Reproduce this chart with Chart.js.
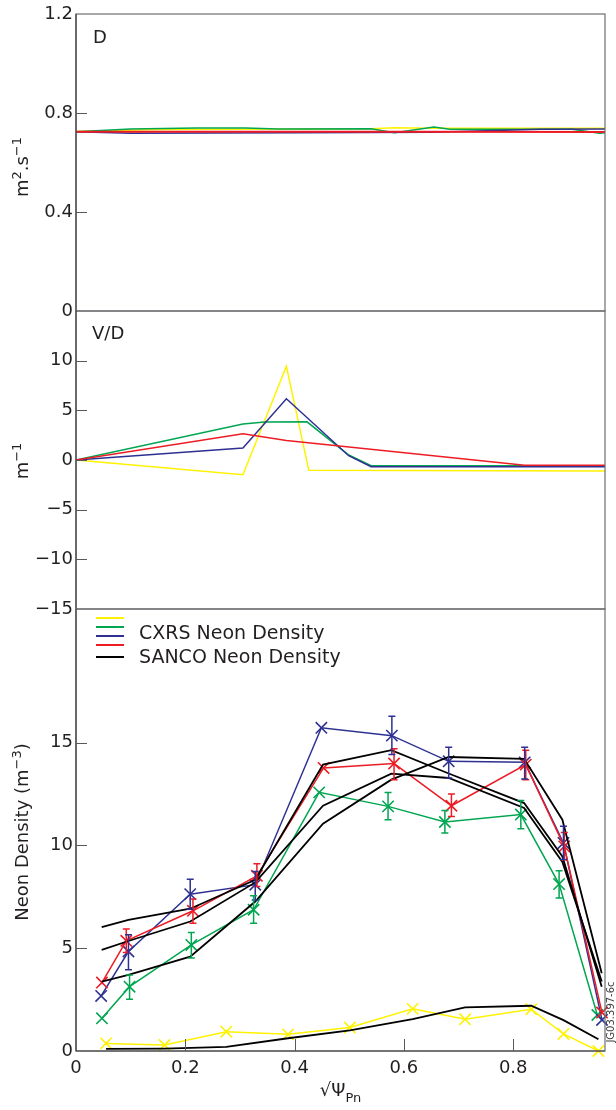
<!DOCTYPE html>
<html>
<head>
<meta charset="utf-8">
<script src="https://cdn.jsdelivr.net/npm/chart.js@4.4.1/dist/chart.umd.min.js"></script>
<style>
  html, body { margin: 0; padding: 0; background: #fff; }
  #wrap { position: relative; width: 616px; height: 1110px; }
  #wrap canvas { position: absolute; left: 0; top: 0; }
</style>
</head>
<body>
<div id="wrap">
  <canvas id="cD" width="616" height="1110"></canvas>
  <canvas id="cVD" width="616" height="1110"></canvas>
  <canvas id="cNe" width="616" height="1110"></canvas>
</div>
<script>
// ---- data ----
const XMAX = 0.968;
const xTicks = [0, 0.2, 0.4, 0.6, 0.8];

// D panel (m^2/s)
const dTicks = [0, 0.4, 0.8, 1.2];
const dYellowX = [0, 0.15, 0.54, 0.583, 0.655, 0.968];
const dYellow  = [0.725, 0.733, 0.736, 0.740, 0.738, 0.738];
const dGreenX  = [0, 0.1, 0.22, 0.31, 0.37, 0.54, 0.583, 0.655, 0.684, 0.908, 0.958, 0.968];
const dGreen   = [0.724, 0.735, 0.739, 0.739, 0.735, 0.736, 0.720, 0.743, 0.734, 0.734, 0.718, 0.720];
const dBlueX   = [0, 0.1, 0.4, 0.65, 0.85, 0.968];
const dBlue    = [0.724, 0.718, 0.720, 0.722, 0.734, 0.735];
const dRedX    = [0, 0.3, 0.6, 0.968];
const dRed     = [0.724, 0.724, 0.724, 0.723];

// V/D panel (1/m)
const vdTicks = [-15, -10, -5, 0, 5, 10];
const vdYellowX = [0, 0.3055, 0.385, 0.426, 0.968];
const vdYellow  = [0, -1.48, 9.43, -1.04, -1.1];
const vdGreenX  = [0, 0.3055, 0.345, 0.4227, 0.499, 0.54, 0.968];
const vdGreen   = [0, 3.62, 3.82, 3.84, 0.5, -0.58, -0.58];
const vdBlueX   = [0, 0.3055, 0.385, 0.499, 0.54, 0.968];
const vdBlue    = [0, 1.21, 6.17, 0.43, -0.68, -0.68];
const vdRedX    = [0, 0.3055, 0.385, 0.821, 0.968];
const vdRed     = [0, 2.65, 1.97, -0.53, -0.53];

// Neon density panel
const neTicks = [0, 5, 10, 15];
const neYellowX = [0.055, 0.162, 0.275, 0.388, 0.501, 0.616, 0.712, 0.833, 0.892, 0.956];
const neYellow  = [0.37, 0.29, 0.94, 0.81, 1.14, 2.05, 1.54, 2.03, 0.83, 0.0];
const neGreenX  = [0.0475, 0.098, 0.211, 0.325, 0.445, 0.571, 0.675, 0.814, 0.884, 0.954];
const neGreen   = [1.59, 3.13, 5.16, 6.87, 12.58, 11.9, 11.14, 11.5, 8.12, 1.75];
const neGreenLo = [null, 2.52, 4.52, 6.22, null, 11.25, 10.6, 10.81, 7.44, null];
const neGreenHi = [null, 3.7, 5.76, 7.55, null, 12.58, 11.7, 12.18, 8.77, null];
const neBlueX   = [0.046, 0.096, 0.209, 0.328, 0.449, 0.578, 0.682, 0.821, 0.892, 0.9625];
const neBlue    = [2.68, 4.84, 7.63, 8.09, 15.72, 15.34, 14.09, 14.04, 10.12, 1.51];
const neBlueLo  = [null, 3.95, 6.9, 7.35, null, 14.42, 13.28, 13.23, 9.32, null];
const neBlueHi  = [null, 5.65, 8.36, 8.73, null, 16.28, 14.77, 14.77, 10.93, null];
const neRedX    = [0.0475, 0.092, 0.214, 0.331, 0.453, 0.582, 0.687, 0.823, 0.8935, 0.9625];
const neRed     = [3.33, 5.36, 6.82, 8.52, 13.77, 13.98, 11.93, 13.93, 9.95, 1.87];
const neRedLo   = [null, 4.79, 6.22, 8.0, null, 13.2, 11.41, 13.2, 9.3, null];
const neRedHi   = [null, 5.93, 7.39, 9.11, null, 14.7, 12.5, 14.63, 10.63, null];
// SANCO simulated profiles
const sancoX  = [0.047, 0.096, 0.209, 0.328, 0.452, 0.577, 0.682, 0.82, 0.89, 0.962];
const sancoA  = [6.02, 6.38, 6.92, 8.33, 13.93, 14.63, 13.5, 12.06, 9.46, 3.13];
const sancoB  = [4.92, 5.35, 6.3, 8.2, 11.93, 13.49, 13.28, 11.82, 9.2, 3.38];
const sancoC  = [3.38, 3.7, 4.59, 7.27, 11.06, 13.2, 14.3, 14.21, 11.25, 3.78];
const sancoLowX = [0.055, 0.162, 0.275, 0.388, 0.501, 0.616, 0.712, 0.833, 0.892, 0.956];
const sancoLow  = [0.1, 0.12, 0.2, 0.62, 1.0, 1.55, 2.12, 2.2, 1.5, 0.57];

// ---- style ----
const W = 616, H = 1110, LEFT = 76, RIGHT = 605;
const TEXT = '#231f20';
const YELLOW = '#fff200', GREEN = '#00a651', BLUE = '#2e3192', RED = '#ed1c24', BLACK = '#000000';
Chart.defaults.font.family = 'DejaVu Sans';
Chart.defaults.color = TEXT;

const pts = (xs, ys) => xs.map((x, i) => ({ x, y: ys[i] }));
const fmt = v => (v === 0 ? '0' : (Number.isInteger(v) ? String(v) : v.toFixed(1))).replace('-', '\u2212');

function drawRich(ctx, pieces, size) {
    // pieces drawn centred on the current origin
    const sub = Math.round(size * 0.72);
    let total = 0;
    pieces.forEach(p => { ctx.font = `${p.sup || p.sub ? sub : size}px "DejaVu Sans"`; p.w = ctx.measureText(p.t).width; total += p.w; });
    let x = -total / 2;
    ctx.textBaseline = 'alphabetic';
    ctx.textAlign = 'left';
    pieces.forEach(p => {
        ctx.font = `${p.sup || p.sub ? sub : size}px "DejaVu Sans"`;
        const dy = p.sup ? -size * 0.42 : p.sub ? size * 0.3 : 0;
        ctx.fillText(p.t, x, size * 0.36 + dy);
        x += p.w;
    });
}

const decor = {
    id: 'decor',
    afterDatasetsDraw(chart, args, o) {
        const { ctx, chartArea: a, scales: { x, y } } = chart;
        ctx.save();
        // error bars
        chart.data.datasets.forEach(ds => {
            if (!ds.errLow) return;
            ctx.strokeStyle = ds.borderColor;
            ctx.lineWidth = 1.5;
            ds.data.forEach((p, i) => {
                if (ds.errLow[i] == null) return;
                const px = x.getPixelForValue(p.x);
                const y1 = y.getPixelForValue(ds.errLow[i]);
                const y2 = y.getPixelForValue(ds.errHigh[i]);
                ctx.beginPath();
                ctx.moveTo(px, y1); ctx.lineTo(px, y2);
                ctx.moveTo(px - 3.5, y1); ctx.lineTo(px + 3.5, y1);
                ctx.moveTo(px - 3.5, y2); ctx.lineTo(px + 3.5, y2);
                ctx.stroke();
            });
        });

        // frame
        ctx.strokeStyle = '#6d6e71';
        ctx.lineWidth = 1.2;
        ctx.strokeRect(a.left, a.top, a.right - a.left, a.bottom - a.top);
        ctx.strokeStyle = '#414042';
        ctx.beginPath();
        ctx.moveTo(a.left, a.top); ctx.lineTo(a.left, a.bottom);
        if (o.xTicks) { ctx.moveTo(a.left, a.bottom); ctx.lineTo(a.right, a.bottom); }
        ctx.stroke();

        // inner ticks
        ctx.strokeStyle = '#58595b';
        ctx.lineWidth = 1;
        ctx.beginPath();
        (o.yTicks || []).forEach(v => {
            const py = Math.round(y.getPixelForValue(v)) + 0.5;
            if (py < a.top + 2 || py > a.bottom - 2) return;
            ctx.moveTo(a.left, py); ctx.lineTo(a.left + 11, py);
        });
        (o.xTicks || []).forEach(v => {
            const px = Math.round(x.getPixelForValue(v)) + 0.5;
            if (px < a.left + 2) return;
            ctx.moveTo(px, a.bottom); ctx.lineTo(px, a.bottom - 12);
        });
        ctx.stroke();

        // panel label
        ctx.fillStyle = TEXT;
        if (o.label) {
            ctx.font = '18px "DejaVu Sans"';
            ctx.textAlign = 'left';
            ctx.textBaseline = 'middle';
            ctx.fillText(o.label, o.labelX, o.labelY);
        }
        // y title
        if (o.yTitle) {
            ctx.save();
            ctx.translate(22, o.yTitleY);
            ctx.rotate(-Math.PI / 2);
            drawRich(ctx, o.yTitle, 18);
            ctx.restore();
        }
        // x title
        if (o.xTitle) {
            ctx.save();
            ctx.translate((a.left + a.right) / 2, 1090);
            drawRich(ctx, o.xTitle, 18);
            ctx.restore();
        }
        // legend
        if (o.legend) {
            ctx.lineWidth = 2;
            o.legend.forEach(l => {
                ctx.strokeStyle = l.color;
                ctx.beginPath();
                ctx.moveTo(96, l.y); ctx.lineTo(124, l.y);
                ctx.stroke();
            });
            ctx.font = '19px "DejaVu Sans"';
            ctx.textAlign = 'left';
            ctx.textBaseline = 'middle';
            ctx.fillText('CXRS Neon Density', 139, 634);
            ctx.fillText('SANCO Neon Density', 139, 658);
        }
        if (o.stamp) {
            ctx.save();
            ctx.translate(611, 1012);
            ctx.rotate(-Math.PI / 2);
            ctx.font = '10px "DejaVu Sans"';
            ctx.fillStyle = '#414042';
            ctx.textAlign = 'center';
            ctx.textBaseline = 'middle';
            ctx.fillText(o.stamp, 0, 0);
            ctx.restore();
        }
        ctx.restore();
    }
};

function line(label, xs, ys, color, extra) {
    return Object.assign({
        label, data: pts(xs, ys), showLine: true, borderColor: color,
        borderWidth: 1.5, pointRadius: 0, tension: 0, fill: false
    }, extra || {});
}

function marked(label, xs, ys, color, lo, hi) {
    return line(label, xs, ys, color, {
        pointStyle: 'crossRot', pointRadius: 8, pointBorderWidth: 1.6,
        pointBorderColor: color, pointBackgroundColor: 'rgba(0,0,0,0)',
        errLow: lo, errHigh: hi, clip: false
    });
}

function yAxis(min, max, ticks) {
    return {
        type: 'linear', min, max,
        afterFit: s => { s.width = LEFT; },
        afterBuildTicks: s => { s.ticks = ticks.map(v => ({ value: v })); },
        grid: { display: false, drawTicks: false },
        border: { display: false },
        ticks: { font: { size: 18 }, color: TEXT, padding: 3, callback: v => fmt(v) }
    };
}

function makeChart(id, datasets, top, bottom, yScale, decorOpts, showX) {
    const xScale = {
        type: 'linear', min: 0, max: XMAX, display: showX,
        afterBuildTicks: s => { s.ticks = xTicks.map(v => ({ value: v })); },
        grid: { display: false, drawTicks: false },
        border: { display: false },
        ticks: { font: { size: 18 }, color: TEXT, padding: 7, callback: v => fmt(v) }
    };
    if (showX) xScale.afterFit = s => { s.height = H - bottom; };
    return new Chart(document.getElementById(id), {
        type: 'scatter',
        data: { datasets },
        plugins: [decor],
        options: {
            responsive: false, animation: false, events: [],
            layout: { padding: { left: 0, right: W - RIGHT, top, bottom: showX ? 0 : H - bottom } },
            scales: { x: xScale, y: yScale },
            plugins: { legend: { display: false }, tooltip: { enabled: false }, decor: decorOpts }
        }
    });
}

// D panel
makeChart('cD', [
    line('D red', dRedX, dRed, RED, { borderWidth: 2 }),
    line('D blue', dBlueX, dBlue, BLUE),
    line('D green', dGreenX, dGreen, GREEN),
    line('D yellow', dYellowX, dYellow, YELLOW)
], 14, 311, yAxis(0, 1.2, dTicks), {
    yTicks: dTicks, label: 'D', labelX: 93, labelY: 38,
    yTitle: [{ t: 'm' }, { t: '2', sup: true }, { t: '.s' }, { t: '\u22121', sup: true }], yTitleY: 167
}, false);

// V/D panel
makeChart('cVD', [
    line('VD red', vdRedX, vdRed, RED),
    line('VD blue', vdBlueX, vdBlue, BLUE),
    line('VD green', vdGreenX, vdGreen, GREEN),
    line('VD yellow', vdYellowX, vdYellow, YELLOW)
], 311, 609, yAxis(-15, 15, vdTicks), {
    yTicks: vdTicks, label: 'V/D', labelX: 92, labelY: 334,
    yTitle: [{ t: 'm' }, { t: '\u22121', sup: true }], yTitleY: 461
}, false);

// Neon density panel
makeChart('cNe', [
    line('SANCO A', sancoX, sancoA, BLACK, { borderWidth: 1.8 }),
    line('SANCO B', sancoX, sancoB, BLACK, { borderWidth: 1.8 }),
    line('SANCO C', sancoX, sancoC, BLACK, { borderWidth: 1.8 }),
    line('SANCO low', sancoLowX, sancoLow, BLACK, { borderWidth: 1.8 }),
    marked('CXRS red', neRedX, neRed, RED, neRedLo, neRedHi),
    marked('CXRS blue', neBlueX, neBlue, BLUE, neBlueLo, neBlueHi),
    marked('CXRS green', neGreenX, neGreen, GREEN, neGreenLo, neGreenHi),
    marked('CXRS yellow', neYellowX, neYellow, YELLOW)
], 609, 1051, yAxis(0, 21.5, neTicks), {
    yTicks: neTicks, xTicks: xTicks,
    yTitle: [{ t: 'Neon Density (m' }, { t: '\u22123', sup: true }, { t: ')' }], yTitleY: 832,
    xTitle: [{ t: '\u221a\u03a8' }, { t: 'Pn', sub: true }],
    legend: [
        { color: YELLOW, y: 618 }, { color: GREEN, y: 627 }, { color: BLUE, y: 636 },
        { color: RED, y: 645 }, { color: BLACK, y: 657 }
    ],
    stamp: 'JG03.397-6c'
}, true);
</script>
</body>
</html>
